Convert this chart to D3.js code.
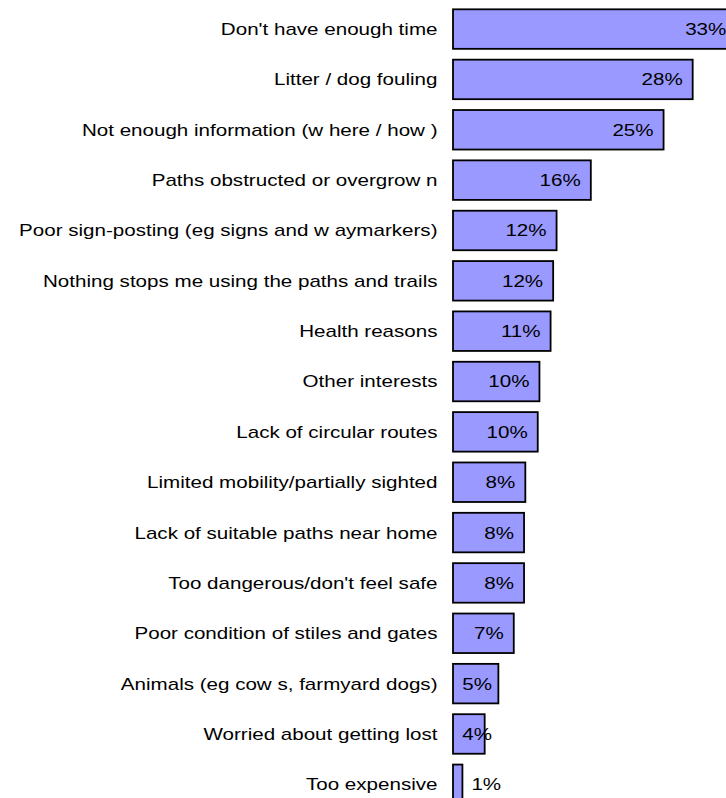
<!DOCTYPE html>
<html>
<head>
<meta charset="utf-8">
<script src="https://cdn.jsdelivr.net/npm/d3@7"></script>
<style>
  html, body { margin: 0; padding: 0; background: #fff; }
  svg { display: block; }
  text { font-family: "Liberation Sans", Arial, sans-serif; font-size: 17px; fill: #000; }
</style>
</head>
<body>
<svg id="chart" width="726" height="798"></svg>
<script>
// Reasons for not using paths and trails (share of respondents, %)
const categories = [
  "Don't have enough time",
  "Litter / dog fouling",
  "Not enough information (w here / how )",
  "Paths obstructed or overgrow n",
  "Poor sign-posting (eg signs and w aymarkers)",
  "Nothing stops me using the paths and trails",
  "Health reasons",
  "Other interests",
  "Lack of circular routes",
  "Limited mobility/partially sighted",
  "Lack of suitable paths near home",
  "Too dangerous/don't feel safe",
  "Poor condition of stiles and gates",
  "Animals (eg cow s, farmyard dogs)",
  "Worried about getting lost",
  "Too expensive"
];
const values = [33.1, 28.0, 24.6, 16.1, 12.1, 11.7, 11.4, 10.1, 9.9, 8.45, 8.3, 8.3, 7.1, 5.3, 3.7, 1.1];

const svg = d3.select("#chart");
const stretch = 1.21;           // horizontal widening of the label lettering
const fmt = v => Math.round(v) + "%";

const x0 = 453;
const x = d3.scaleLinear().domain([0, 35]).range([x0, x0 + 35 * 8.56]);

const step = 50.35;
const yStart = 3.9;
const y = d3.scaleBand()
  .domain(categories)
  .range([yStart, yStart + categories.length * step])
  .paddingInner(0.215)
  .paddingOuter(0.1075);

const rows = categories.map((c, i) => ({ cat: c, value: values[i] }));

// bars
svg.append("g").selectAll("rect").data(rows).join("rect")
  .attr("x", x(0))
  .attr("y", d => y(d.cat))
  .attr("width", d => x(d.value) - x(0))
  .attr("height", y.bandwidth())
  .attr("fill", "#9999FF")
  .attr("stroke", "#000")
  .attr("stroke-width", 1.8);

function widen(sel) {
  sel.each(function () {
    const w = this.getComputedTextLength();
    d3.select(this).attr("textLength", w * stretch).attr("lengthAdjust", "spacingAndGlyphs");
  });
}

// category labels
svg.append("g").selectAll("text").data(rows).join("text")
  .attr("x", x0 - 15.5)
  .attr("y", d => y(d.cat) + y.bandwidth() / 2)
  .attr("dy", "0.35em")
  .attr("text-anchor", "end")
  .text(d => d.cat)
  .call(widen);

// value labels: inside the bar end, or just past it when the bar is too short
svg.append("g").selectAll("text").data(rows).join("text")
  .attr("y", d => y(d.cat) + y.bandwidth() / 2)
  .attr("dy", "0.35em")
  .each(function (d) {
    const end = x(d.value);
    const t = d3.select(this);
    if (end - x0 < 20) {
      t.attr("x", end + 9).attr("text-anchor", "start");
    } else {
      t.attr("x", Math.max(end - 10, x0 + 39)).attr("text-anchor", "end");
    }
  })
  .text(d => fmt(d.value))
  .call(widen);
</script>
</body>
</html>
